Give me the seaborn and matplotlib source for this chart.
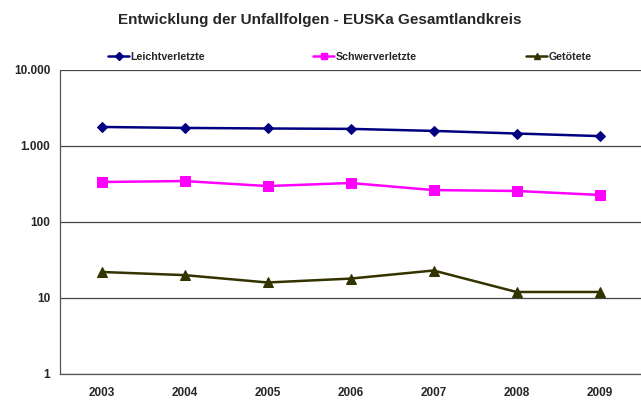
import matplotlib
matplotlib.use("Agg")
import matplotlib.pyplot as plt
import seaborn as sns
import numpy as np
from matplotlib.lines import Line2D
from matplotlib.ticker import FixedLocator, NullLocator

years = ["2003", "2004", "2005", "2006", "2007", "2008", "2009"]
leichtverletzte = [1780, 1730, 1700, 1680, 1580, 1460, 1350]
schwerverletzte = [336, 346, 297, 326, 263, 256, 227]
getoetete = [22, 20, 16, 18, 23, 12, 12]
series_names = ["Leichtverletzte", "Schwerverletzte", "Getötete"]
y_ticks = [1, 10, 100, 1000, 10000]
y_tick_labels = ["1", "10", "100", "1.000", "10.000"]

colors = ["#000080", "#FF00FF", "#333300"]
markers = ["D", "s", "^"]
msizes = [5.5, 6.5, 6.5]

sns.set_style("white")
plt.rcParams["font.family"] = ["Liberation Sans", "DejaVu Sans"]

fig = plt.figure(figsize=(6.41, 4.01), dpi=100)
ax = fig.add_axes([60/641, 1-374/401, 581/641, (374-70)/401])

x = np.arange(len(years))
handles = []
for name, vals, c, m, ms in zip(series_names, [leichtverletzte, schwerverletzte, getoetete], colors, markers, msizes):
    sns.lineplot(x=x, y=vals, ax=ax, color=c, marker=m, markersize=ms,
                 markeredgecolor=c, linewidth=1.8, legend=False)
    handles.append(Line2D([0], [0], color=c, marker=m, markersize=ms - 1.5,
                          markeredgecolor=c, linewidth=1.8))

ax.set_yscale("log")
ax.set_ylim(1, 10000)
ax.set_xlim(-0.5, len(years) - 0.5)
ax.yaxis.set_major_locator(FixedLocator(y_ticks))
ax.yaxis.set_minor_locator(NullLocator())
ax.set_yticklabels(y_tick_labels, fontsize=8.5, fontweight="bold")
ax.set_xticks(x)
ax.set_xticklabels(years, fontsize=8.5, fontweight="bold")
ax.set_xticks(np.arange(len(years) + 1) - 0.5, minor=True)
ax.tick_params(axis="x", which="major", length=0, pad=9)
ax.tick_params(axis="x", which="minor", length=4, width=0.8, color="#555555", direction="out")
ax.tick_params(axis="y", which="major", length=4, width=0.8, color="#555555", direction="out", pad=3)
ax.grid(axis="y", color="#444444", linewidth=0.9)
ax.grid(axis="x", visible=False)
for s in ["top", "right"]:
    ax.spines[s].set_visible(False)
for s in ["left", "bottom"]:
    ax.spines[s].set_color("#555555")
    ax.spines[s].set_linewidth(0.9)
ax.set_xlabel("")
ax.set_ylabel("")

fig.text(320/641, 1 - 20/401, "Entwicklung der Unfallfolgen - EUSKa Gesamtlandkreis",
         ha="center", va="center", fontsize=11, fontweight="bold")

legend_x = [108/641, 313/641, 526/641]
for h, name, lx in zip(handles, series_names, legend_x):
    fig.legend([h], [name], loc="center left", bbox_to_anchor=(lx, 1 - 57/401),
               frameon=False, prop={"size": 7.7, "weight": "bold"},
               handlelength=2.0, handletextpad=0.1, borderpad=0, borderaxespad=0)

fig.savefig("out.png", dpi=100)
